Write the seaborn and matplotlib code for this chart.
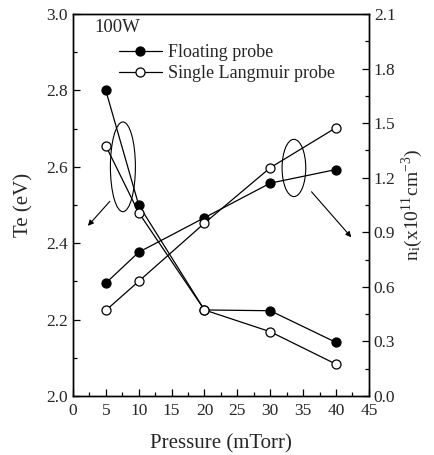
import matplotlib
matplotlib.use("Agg")
import matplotlib.pyplot as plt
from matplotlib.patches import Ellipse
from matplotlib.ticker import MultipleLocator, FormatStrFormatter
import pandas as pd
import seaborn as sns

# Data
pressure = [5, 10, 20, 30, 40]
te_floating = [2.80, 2.50, 2.225, 2.223, 2.14]
te_langmuir = [2.655, 2.48, 2.225, 2.168, 2.083]
ni_floating = [0.62, 0.79, 0.98, 1.17, 1.245]
ni_langmuir = [0.47, 0.63, 0.95, 1.255, 1.475]

sns.set_theme(style="ticks")
plt.rcParams['font.family'] = ['Liberation Serif', 'DejaVu Serif']
plt.rcParams['mathtext.fontset'] = 'stix'

df = pd.DataFrame({"pressure": pressure, "te_f": te_floating, "te_l": te_langmuir,
                   "ni_f": ni_floating, "ni_l": ni_langmuir})

fig = plt.figure(figsize=(4.34, 4.55), dpi=100)
ax = fig.add_axes([0.168, 0.130, 0.682, 0.839])
ax2 = ax.twinx()

line_kw = dict(color="black", linewidth=0.9, markersize=6.5, markeredgewidth=0.9)
sns.lineplot(data=df, x="pressure", y="te_f", ax=ax, marker="o", markerfacecolor="black",
             markeredgecolor="black", label="Floating probe", **line_kw)
sns.lineplot(data=df, x="pressure", y="te_l", ax=ax, marker="o", markerfacecolor="white",
             markeredgecolor="black", label="Single Langmuir probe", **line_kw)
sns.lineplot(data=df, x="pressure", y="ni_f", ax=ax2, marker="o", markerfacecolor="black",
             markeredgecolor="black", legend=False, **line_kw)
sns.lineplot(data=df, x="pressure", y="ni_l", ax=ax2, marker="o", markerfacecolor="white",
             markeredgecolor="black", legend=False, **line_kw)

ax.set_xlim(0, 45)
ax.set_ylim(2.0, 3.0)
ax2.set_ylim(0.0, 2.1)
ax.xaxis.set_major_locator(MultipleLocator(5))
ax.xaxis.set_minor_locator(MultipleLocator(2.5))
ax.yaxis.set_major_locator(MultipleLocator(0.2))
ax.yaxis.set_minor_locator(MultipleLocator(0.1))
ax2.yaxis.set_major_locator(MultipleLocator(0.3))
ax2.yaxis.set_minor_locator(MultipleLocator(0.15))
ax.yaxis.set_major_formatter(FormatStrFormatter('%.1f'))
ax2.yaxis.set_major_formatter(FormatStrFormatter('%.1f'))

for a in (ax, ax2):
    a.tick_params(which="major", direction="in", length=5, width=0.9, labelsize=12.5, color="black")
    a.tick_params(which="minor", direction="in", length=3, width=0.9, color="black")
    for s in a.spines.values():
        s.set_linewidth(1.0)
        s.set_color("black")
ax.tick_params(axis="y", which="both", right=False)
ax.tick_params(axis="x", pad=5)

ax.set_xlabel("Pressure (mTorr)", fontsize=15, labelpad=11)
ax.set_ylabel("Te (eV)", fontsize=15, labelpad=9)
ax2.set_ylabel(r"n$_\mathregular{i}$(x10$^\mathregular{11}$cm$^\mathregular{-3}$)", fontsize=14, labelpad=3)

ax.text(3.3, 2.965, "100W", fontsize=13.5, va="center", ha="left")

leg = ax.legend(loc="upper left", bbox_to_anchor=(0.155, 0.922), frameon=False, fontsize=13,
                handlelength=2.4, handletextpad=0.3, labelspacing=0.25, borderaxespad=0,
                borderpad=0)

# Annotation ellipses and arrows
ax.add_patch(Ellipse((7.6, 2.60), 3.8, 0.235, fill=False, edgecolor="black", linewidth=0.8))
ax.annotate("", xy=(2.0, 2.44), xytext=(5.9, 2.515),
            arrowprops=dict(arrowstyle="-|>", color="black", lw=0.8, mutation_scale=8))
ax.add_patch(Ellipse((33.6, 2.597), 3.6, 0.15, fill=False, edgecolor="black", linewidth=0.8))
ax.annotate("", xy=(42.6, 2.41), xytext=(36.0, 2.54),
            arrowprops=dict(arrowstyle="-|>", color="black", lw=0.8, mutation_scale=8))

fig.savefig("out.png", dpi=100)
